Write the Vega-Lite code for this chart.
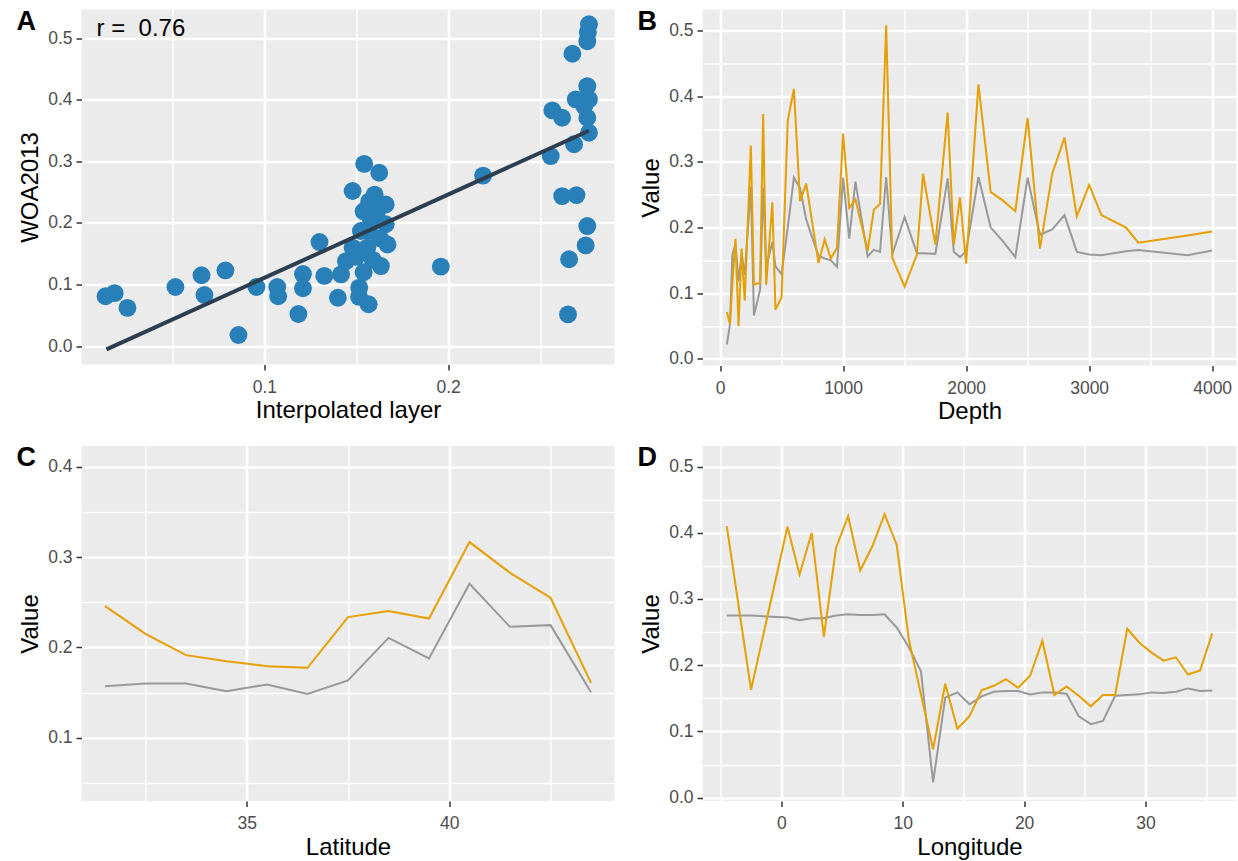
{
  "$schema": "https://vega.github.io/schema/vega-lite/v6.json",
  "background": "white",
  "padding": {"left": 16.5, "top": 7.5, "right": 0, "bottom": 0},
  "columns": 2,
  "spacing": {"column": 23, "row": 20.5},
  "datasets": {
    "scatter": [
      {"interp": 0.0136, "woa": 0.081}, {"interp": 0.0185, "woa": 0.086}, {"interp": 0.0255, "woa": 0.062},
      {"interp": 0.0516, "woa": 0.096}, {"interp": 0.0658, "woa": 0.115}, {"interp": 0.0674, "woa": 0.083},
      {"interp": 0.0788, "woa": 0.123}, {"interp": 0.0859, "woa": 0.018}, {"interp": 0.0957, "woa": 0.096},
      {"interp": 0.107, "woa": 0.096}, {"interp": 0.1075, "woa": 0.081}, {"interp": 0.1185, "woa": 0.052},
      {"interp": 0.121, "woa": 0.117}, {"interp": 0.121, "woa": 0.094}, {"interp": 0.130, "woa": 0.169},
      {"interp": 0.1326, "woa": 0.114}, {"interp": 0.1417, "woa": 0.1165}, {"interp": 0.140, "woa": 0.0785},
      {"interp": 0.1516, "woa": 0.095}, {"interp": 0.1567, "woa": 0.068}, {"interp": 0.1515, "woa": 0.080},
      {"interp": 0.1444, "woa": 0.138}, {"interp": 0.154, "woa": 0.120}, {"interp": 0.1634, "woa": 0.130},
      {"interp": 0.148, "woa": 0.160}, {"interp": 0.156, "woa": 0.160}, {"interp": 0.167, "woa": 0.165},
      {"interp": 0.1525, "woa": 0.187}, {"interp": 0.157, "woa": 0.187}, {"interp": 0.166, "woa": 0.198},
      {"interp": 0.154, "woa": 0.219}, {"interp": 0.166, "woa": 0.230}, {"interp": 0.160, "woa": 0.246},
      {"interp": 0.148, "woa": 0.252}, {"interp": 0.1625, "woa": 0.2816}, {"interp": 0.1543, "woa": 0.296},
      {"interp": 0.158, "woa": 0.205}, {"interp": 0.161, "woa": 0.215}, {"interp": 0.163, "woa": 0.175},
      {"interp": 0.159, "woa": 0.140}, {"interp": 0.150, "woa": 0.145}, {"interp": 0.157, "woa": 0.235},
      {"interp": 0.196, "woa": 0.129}, {"interp": 0.219, "woa": 0.277},
      {"interp": 0.2558, "woa": 0.3087}, {"interp": 0.2567, "woa": 0.383}, {"interp": 0.262, "woa": 0.371},
      {"interp": 0.2676, "woa": 0.475}, {"interp": 0.2766, "woa": 0.523}, {"interp": 0.2757, "woa": 0.4955},
      {"interp": 0.2760, "woa": 0.510}, {"interp": 0.2757, "woa": 0.4224}, {"interp": 0.2766, "woa": 0.401},
      {"interp": 0.2694, "woa": 0.401}, {"interp": 0.2740, "woa": 0.390}, {"interp": 0.2757, "woa": 0.371},
      {"interp": 0.2766, "woa": 0.3466}, {"interp": 0.2685, "woa": 0.328}, {"interp": 0.262, "woa": 0.2437},
      {"interp": 0.2698, "woa": 0.2453}, {"interp": 0.2757, "woa": 0.195}, {"interp": 0.2748, "woa": 0.1636},
      {"interp": 0.2658, "woa": 0.141}, {"interp": 0.2652, "woa": 0.0515}
    ],
    "fit": [
      {"interp": 0.0141, "woa": -0.0055},
      {"interp": 0.2766, "woa": 0.350}
    ],
    "note": [
      {"interp": 0.0087, "woa": 0.5037, "label": "r = \u00a00.76"}
    ],
    "depth": [
      {"series": "Interpolated layer", "depth": 55, "value": 0.022},
      {"series": "Interpolated layer", "depth": 80, "value": 0.052},
      {"series": "Interpolated layer", "depth": 100, "value": 0.159},
      {"series": "Interpolated layer", "depth": 125, "value": 0.175},
      {"series": "Interpolated layer", "depth": 150, "value": 0.118},
      {"series": "Interpolated layer", "depth": 175, "value": 0.160},
      {"series": "Interpolated layer", "depth": 200, "value": 0.128},
      {"series": "Interpolated layer", "depth": 250, "value": 0.262},
      {"series": "Interpolated layer", "depth": 275, "value": 0.066},
      {"series": "Interpolated layer", "depth": 325, "value": 0.105},
      {"series": "Interpolated layer", "depth": 350, "value": 0.260},
      {"series": "Interpolated layer", "depth": 375, "value": 0.140},
      {"series": "Interpolated layer", "depth": 425, "value": 0.178},
      {"series": "Interpolated layer", "depth": 450, "value": 0.141},
      {"series": "Interpolated layer", "depth": 500, "value": 0.129},
      {"series": "Interpolated layer", "depth": 550, "value": 0.200},
      {"series": "Interpolated layer", "depth": 600, "value": 0.276},
      {"series": "Interpolated layer", "depth": 650, "value": 0.260},
      {"series": "Interpolated layer", "depth": 700, "value": 0.212},
      {"series": "Interpolated layer", "depth": 800, "value": 0.157},
      {"series": "Interpolated layer", "depth": 850, "value": 0.153},
      {"series": "Interpolated layer", "depth": 900, "value": 0.150},
      {"series": "Interpolated layer", "depth": 950, "value": 0.140},
      {"series": "Interpolated layer", "depth": 1000, "value": 0.276},
      {"series": "Interpolated layer", "depth": 1050, "value": 0.183},
      {"series": "Interpolated layer", "depth": 1100, "value": 0.270},
      {"series": "Interpolated layer", "depth": 1200, "value": 0.156},
      {"series": "Interpolated layer", "depth": 1250, "value": 0.166},
      {"series": "Interpolated layer", "depth": 1300, "value": 0.163},
      {"series": "Interpolated layer", "depth": 1350, "value": 0.277},
      {"series": "Interpolated layer", "depth": 1400, "value": 0.159},
      {"series": "Interpolated layer", "depth": 1500, "value": 0.216},
      {"series": "Interpolated layer", "depth": 1600, "value": 0.161},
      {"series": "Interpolated layer", "depth": 1650, "value": 0.161},
      {"series": "Interpolated layer", "depth": 1750, "value": 0.160},
      {"series": "Interpolated layer", "depth": 1850, "value": 0.275},
      {"series": "Interpolated layer", "depth": 1900, "value": 0.163},
      {"series": "Interpolated layer", "depth": 1950, "value": 0.155},
      {"series": "Interpolated layer", "depth": 2000, "value": 0.164},
      {"series": "Interpolated layer", "depth": 2100, "value": 0.277},
      {"series": "Interpolated layer", "depth": 2200, "value": 0.200},
      {"series": "Interpolated layer", "depth": 2300, "value": 0.179},
      {"series": "Interpolated layer", "depth": 2400, "value": 0.155},
      {"series": "Interpolated layer", "depth": 2500, "value": 0.276},
      {"series": "Interpolated layer", "depth": 2600, "value": 0.189},
      {"series": "Interpolated layer", "depth": 2700, "value": 0.197},
      {"series": "Interpolated layer", "depth": 2800, "value": 0.219},
      {"series": "Interpolated layer", "depth": 2900, "value": 0.163},
      {"series": "Interpolated layer", "depth": 3000, "value": 0.159},
      {"series": "Interpolated layer", "depth": 3100, "value": 0.158},
      {"series": "Interpolated layer", "depth": 3300, "value": 0.164},
      {"series": "Interpolated layer", "depth": 3400, "value": 0.166},
      {"series": "Interpolated layer", "depth": 3800, "value": 0.158},
      {"series": "Interpolated layer", "depth": 4000, "value": 0.165},
      {"series": "WOA2013", "depth": 55, "value": 0.0716},
      {"series": "WOA2013", "depth": 80, "value": 0.053},
      {"series": "WOA2013", "depth": 100, "value": 0.115},
      {"series": "WOA2013", "depth": 125, "value": 0.183},
      {"series": "WOA2013", "depth": 150, "value": 0.050},
      {"series": "WOA2013", "depth": 175, "value": 0.168},
      {"series": "WOA2013", "depth": 200, "value": 0.089},
      {"series": "WOA2013", "depth": 250, "value": 0.325},
      {"series": "WOA2013", "depth": 275, "value": 0.113},
      {"series": "WOA2013", "depth": 325, "value": 0.116},
      {"series": "WOA2013", "depth": 350, "value": 0.373},
      {"series": "WOA2013", "depth": 375, "value": 0.113},
      {"series": "WOA2013", "depth": 425, "value": 0.2385},
      {"series": "WOA2013", "depth": 450, "value": 0.075},
      {"series": "WOA2013", "depth": 500, "value": 0.094},
      {"series": "WOA2013", "depth": 550, "value": 0.363},
      {"series": "WOA2013", "depth": 600, "value": 0.411},
      {"series": "WOA2013", "depth": 650, "value": 0.240},
      {"series": "WOA2013", "depth": 700, "value": 0.267},
      {"series": "WOA2013", "depth": 800, "value": 0.146},
      {"series": "WOA2013", "depth": 850, "value": 0.182},
      {"series": "WOA2013", "depth": 900, "value": 0.153},
      {"series": "WOA2013", "depth": 950, "value": 0.169},
      {"series": "WOA2013", "depth": 1000, "value": 0.343},
      {"series": "WOA2013", "depth": 1050, "value": 0.230},
      {"series": "WOA2013", "depth": 1100, "value": 0.243},
      {"series": "WOA2013", "depth": 1200, "value": 0.165},
      {"series": "WOA2013", "depth": 1250, "value": 0.227},
      {"series": "WOA2013", "depth": 1300, "value": 0.236},
      {"series": "WOA2013", "depth": 1350, "value": 0.508},
      {"series": "WOA2013", "depth": 1400, "value": 0.154},
      {"series": "WOA2013", "depth": 1500, "value": 0.110},
      {"series": "WOA2013", "depth": 1600, "value": 0.159},
      {"series": "WOA2013", "depth": 1650, "value": 0.282},
      {"series": "WOA2013", "depth": 1750, "value": 0.174},
      {"series": "WOA2013", "depth": 1850, "value": 0.375},
      {"series": "WOA2013", "depth": 1900, "value": 0.174},
      {"series": "WOA2013", "depth": 1950, "value": 0.246},
      {"series": "WOA2013", "depth": 2000, "value": 0.145},
      {"series": "WOA2013", "depth": 2100, "value": 0.418},
      {"series": "WOA2013", "depth": 2200, "value": 0.254},
      {"series": "WOA2013", "depth": 2300, "value": 0.241},
      {"series": "WOA2013", "depth": 2400, "value": 0.225},
      {"series": "WOA2013", "depth": 2500, "value": 0.367},
      {"series": "WOA2013", "depth": 2600, "value": 0.168},
      {"series": "WOA2013", "depth": 2700, "value": 0.282},
      {"series": "WOA2013", "depth": 2800, "value": 0.337},
      {"series": "WOA2013", "depth": 2900, "value": 0.217},
      {"series": "WOA2013", "depth": 3000, "value": 0.265},
      {"series": "WOA2013", "depth": 3100, "value": 0.219},
      {"series": "WOA2013", "depth": 3300, "value": 0.200},
      {"series": "WOA2013", "depth": 3400, "value": 0.177},
      {"series": "WOA2013", "depth": 3800, "value": 0.188},
      {"series": "WOA2013", "depth": 4000, "value": 0.194}
    ],
    "latitude": [
      {"series": "Interpolated layer", "lat": 31.5, "value": 0.157},
      {"series": "Interpolated layer", "lat": 32.5, "value": 0.160},
      {"series": "Interpolated layer", "lat": 33.5, "value": 0.160},
      {"series": "Interpolated layer", "lat": 34.5, "value": 0.1516},
      {"series": "Interpolated layer", "lat": 35.5, "value": 0.159},
      {"series": "Interpolated layer", "lat": 36.5, "value": 0.1486},
      {"series": "Interpolated layer", "lat": 37.5, "value": 0.1634},
      {"series": "Interpolated layer", "lat": 38.5, "value": 0.2106},
      {"series": "Interpolated layer", "lat": 39.5, "value": 0.1878},
      {"series": "Interpolated layer", "lat": 40.5, "value": 0.2705},
      {"series": "Interpolated layer", "lat": 41.5, "value": 0.2228},
      {"series": "Interpolated layer", "lat": 42.5, "value": 0.2247},
      {"series": "Interpolated layer", "lat": 43.5, "value": 0.1505},
      {"series": "WOA2013", "lat": 31.5, "value": 0.2457},
      {"series": "WOA2013", "lat": 32.5, "value": 0.215},
      {"series": "WOA2013", "lat": 33.5, "value": 0.1915},
      {"series": "WOA2013", "lat": 34.5, "value": 0.1848},
      {"series": "WOA2013", "lat": 35.5, "value": 0.1793},
      {"series": "WOA2013", "lat": 36.5, "value": 0.1774},
      {"series": "WOA2013", "lat": 37.5, "value": 0.2336},
      {"series": "WOA2013", "lat": 38.5, "value": 0.2402},
      {"series": "WOA2013", "lat": 39.5, "value": 0.232},
      {"series": "WOA2013", "lat": 40.5, "value": 0.3166},
      {"series": "WOA2013", "lat": 41.5, "value": 0.2826},
      {"series": "WOA2013", "lat": 42.5, "value": 0.255},
      {"series": "WOA2013", "lat": 43.5, "value": 0.1608}
    ],
    "longitude": [
      {"series": "Interpolated layer", "lon": -4.5, "value": 0.275},
      {"series": "Interpolated layer", "lon": -2.5, "value": 0.275},
      {"series": "Interpolated layer", "lon": 0.5, "value": 0.272},
      {"series": "Interpolated layer", "lon": 1.5, "value": 0.268},
      {"series": "Interpolated layer", "lon": 2.5, "value": 0.271},
      {"series": "Interpolated layer", "lon": 3.5, "value": 0.271},
      {"series": "Interpolated layer", "lon": 4.5, "value": 0.275},
      {"series": "Interpolated layer", "lon": 5.5, "value": 0.277},
      {"series": "Interpolated layer", "lon": 6.5, "value": 0.276},
      {"series": "Interpolated layer", "lon": 7.5, "value": 0.276},
      {"series": "Interpolated layer", "lon": 8.5, "value": 0.277},
      {"series": "Interpolated layer", "lon": 9.5, "value": 0.257},
      {"series": "Interpolated layer", "lon": 10.5, "value": 0.227},
      {"series": "Interpolated layer", "lon": 11.5, "value": 0.191},
      {"series": "Interpolated layer", "lon": 12.5, "value": 0.023},
      {"series": "Interpolated layer", "lon": 13.5, "value": 0.151},
      {"series": "Interpolated layer", "lon": 14.5, "value": 0.159},
      {"series": "Interpolated layer", "lon": 15.5, "value": 0.141},
      {"series": "Interpolated layer", "lon": 16.5, "value": 0.153},
      {"series": "Interpolated layer", "lon": 17.5, "value": 0.160},
      {"series": "Interpolated layer", "lon": 18.5, "value": 0.161},
      {"series": "Interpolated layer", "lon": 19.5, "value": 0.161},
      {"series": "Interpolated layer", "lon": 20.5, "value": 0.156},
      {"series": "Interpolated layer", "lon": 21.5, "value": 0.159},
      {"series": "Interpolated layer", "lon": 22.5, "value": 0.159},
      {"series": "Interpolated layer", "lon": 23.5, "value": 0.157},
      {"series": "Interpolated layer", "lon": 24.5, "value": 0.123},
      {"series": "Interpolated layer", "lon": 25.5, "value": 0.111},
      {"series": "Interpolated layer", "lon": 26.5, "value": 0.116},
      {"series": "Interpolated layer", "lon": 27.5, "value": 0.154},
      {"series": "Interpolated layer", "lon": 28.5, "value": 0.155},
      {"series": "Interpolated layer", "lon": 29.5, "value": 0.156},
      {"series": "Interpolated layer", "lon": 30.5, "value": 0.159},
      {"series": "Interpolated layer", "lon": 31.5, "value": 0.158},
      {"series": "Interpolated layer", "lon": 32.5, "value": 0.160},
      {"series": "Interpolated layer", "lon": 33.5, "value": 0.165},
      {"series": "Interpolated layer", "lon": 34.5, "value": 0.161},
      {"series": "Interpolated layer", "lon": 35.5, "value": 0.162},
      {"series": "WOA2013", "lon": -4.5, "value": 0.410},
      {"series": "WOA2013", "lon": -2.5, "value": 0.163},
      {"series": "WOA2013", "lon": 0.5, "value": 0.409},
      {"series": "WOA2013", "lon": 1.5, "value": 0.337},
      {"series": "WOA2013", "lon": 2.5, "value": 0.400},
      {"series": "WOA2013", "lon": 3.5, "value": 0.243},
      {"series": "WOA2013", "lon": 4.5, "value": 0.377},
      {"series": "WOA2013", "lon": 5.5, "value": 0.425},
      {"series": "WOA2013", "lon": 6.5, "value": 0.343},
      {"series": "WOA2013", "lon": 7.5, "value": 0.380},
      {"series": "WOA2013", "lon": 8.5, "value": 0.428},
      {"series": "WOA2013", "lon": 9.5, "value": 0.382},
      {"series": "WOA2013", "lon": 10.5, "value": 0.239},
      {"series": "WOA2013", "lon": 11.5, "value": 0.156},
      {"series": "WOA2013", "lon": 12.5, "value": 0.073},
      {"series": "WOA2013", "lon": 13.5, "value": 0.172},
      {"series": "WOA2013", "lon": 14.5, "value": 0.104},
      {"series": "WOA2013", "lon": 15.5, "value": 0.123},
      {"series": "WOA2013", "lon": 16.5, "value": 0.162},
      {"series": "WOA2013", "lon": 17.5, "value": 0.169},
      {"series": "WOA2013", "lon": 18.5, "value": 0.179},
      {"series": "WOA2013", "lon": 19.5, "value": 0.166},
      {"series": "WOA2013", "lon": 20.5, "value": 0.184},
      {"series": "WOA2013", "lon": 21.5, "value": 0.237},
      {"series": "WOA2013", "lon": 22.5, "value": 0.155},
      {"series": "WOA2013", "lon": 23.5, "value": 0.168},
      {"series": "WOA2013", "lon": 24.5, "value": 0.154},
      {"series": "WOA2013", "lon": 25.5, "value": 0.138},
      {"series": "WOA2013", "lon": 26.5, "value": 0.155},
      {"series": "WOA2013", "lon": 27.5, "value": 0.155},
      {"series": "WOA2013", "lon": 28.5, "value": 0.255},
      {"series": "WOA2013", "lon": 29.5, "value": 0.234},
      {"series": "WOA2013", "lon": 30.5, "value": 0.219},
      {"series": "WOA2013", "lon": 31.5, "value": 0.207},
      {"series": "WOA2013", "lon": 32.5, "value": 0.212},
      {"series": "WOA2013", "lon": 33.5, "value": 0.186},
      {"series": "WOA2013", "lon": 34.5, "value": 0.192},
      {"series": "WOA2013", "lon": 35.5, "value": 0.248}
    ]
  },
  "concat": [
    {
      "width": 533, "height": 355,
      "title": {"text": "A", "dx": -65, "offset": -26},
      "layer": [
        {
          "data": {"name": "scatter"},
          "mark": {"type": "circle", "size": 320, "color": "#2980B9", "opacity": 1},
          "encoding": {
            "x": {"field": "interp", "type": "quantitative", "title": "Interpolated layer",
                  "scale": {"domain": [0.0005, 0.2905], "nice": false, "zero": false},
                  "axis": {"values": [0.05, 0.1, 0.15, 0.2, 0.25],
                           "labelExpr": "abs(datum.value*10 - round(datum.value*10)) > 0.01 ? '' : format(datum.value, '.1f')",
                           "gridWidth": {"condition": {"test": "abs(datum.value*10 - round(datum.value*10)) > 0.01", "value": 1.3}, "value": 2.6},
                           "tickOpacity": {"condition": {"test": "abs(datum.value*10 - round(datum.value*10)) > 0.01", "value": 0}, "value": 1}}},
            "y": {"field": "woa", "type": "quantitative", "title": "WOA2013",
                  "scale": {"domain": [-0.030, 0.547], "nice": false, "zero": false},
                  "axis": {"values": [0, 0.05, 0.1, 0.15, 0.2, 0.25, 0.3, 0.35, 0.4, 0.45, 0.5],
                           "labelExpr": "abs(datum.value*10 - round(datum.value*10)) > 0.01 ? '' : format(datum.value, '.1f')",
                           "gridWidth": {"condition": {"test": "abs(datum.value*10 - round(datum.value*10)) > 0.01", "value": 1.3}, "value": 2.6},
                           "tickOpacity": {"condition": {"test": "abs(datum.value*10 - round(datum.value*10)) > 0.01", "value": 0}, "value": 1}}}
          }
        },
        {
          "data": {"name": "fit"},
          "mark": {"type": "line", "color": "#2C3E50", "strokeWidth": 4},
          "encoding": {
            "x": {"field": "interp", "type": "quantitative"},
            "y": {"field": "woa", "type": "quantitative"}
          }
        },
        {
          "data": {"name": "note"},
          "mark": {"type": "text", "align": "left", "baseline": "alphabetic", "fontSize": 24, "font": "Liberation Sans", "color": "black"},
          "encoding": {
            "x": {"field": "interp", "type": "quantitative"},
            "y": {"field": "woa", "type": "quantitative"},
            "text": {"field": "label"}
          }
        }
      ]
    },
    {
      "width": 534, "height": 356,
      "title": {"text": "B", "dx": -65, "offset": -26},
      "data": {"name": "depth"},
      "mark": {"type": "line", "strokeWidth": 2},
      "encoding": {
        "x": {"field": "depth", "type": "quantitative", "title": "Depth",
              "scale": {"domain": [-143, 4198], "nice": false, "zero": false},
              "axis": {"values": [0, 500, 1000, 1500, 2000, 2500, 3000, 3500, 4000],
                       "labelExpr": "datum.value % 1000 != 0 ? '' : format(datum.value, 'd')",
                       "gridWidth": {"condition": {"test": "datum.value % 1000 != 0", "value": 1.3}, "value": 2.6},
                       "tickOpacity": {"condition": {"test": "datum.value % 1000 != 0", "value": 0}, "value": 1}}},
        "y": {"field": "value", "type": "quantitative", "title": "Value",
              "scale": {"domain": [-0.010, 0.532], "nice": false, "zero": false},
              "axis": {"values": [0, 0.05, 0.1, 0.15, 0.2, 0.25, 0.3, 0.35, 0.4, 0.45, 0.5],
                       "labelExpr": "abs(datum.value*10 - round(datum.value*10)) > 0.01 ? '' : format(datum.value, '.1f')",
                       "gridWidth": {"condition": {"test": "abs(datum.value*10 - round(datum.value*10)) > 0.01", "value": 1.3}, "value": 2.6},
                       "tickOpacity": {"condition": {"test": "abs(datum.value*10 - round(datum.value*10)) > 0.01", "value": 0}, "value": 1}}},
        "color": {"field": "series", "type": "nominal", "legend": null,
                  "scale": {"domain": ["Interpolated layer", "WOA2013"], "range": ["#999999", "#E69F00"]}}
      }
    },
    {
      "width": 533, "height": 355,
      "title": {"text": "C", "dx": -65, "offset": -26},
      "data": {"name": "latitude"},
      "mark": {"type": "line", "strokeWidth": 2},
      "encoding": {
        "x": {"field": "lat", "type": "quantitative", "title": "Latitude",
              "scale": {"domain": [30.92, 44.08], "nice": false, "zero": false},
              "axis": {"values": [32.5, 35, 37.5, 40, 42.5],
                       "labelExpr": "datum.value % 5 != 0 ? '' : format(datum.value, 'd')",
                       "gridWidth": {"condition": {"test": "datum.value % 5 != 0", "value": 1.3}, "value": 2.6},
                       "tickOpacity": {"condition": {"test": "datum.value % 5 != 0", "value": 0}, "value": 1}}},
        "y": {"field": "value", "type": "quantitative", "title": "Value",
              "scale": {"domain": [0.030, 0.423], "nice": false, "zero": false},
              "axis": {"values": [0.05, 0.1, 0.15, 0.2, 0.25, 0.3, 0.35, 0.4],
                       "labelExpr": "abs(datum.value*10 - round(datum.value*10)) > 0.01 ? '' : format(datum.value, '.1f')",
                       "gridWidth": {"condition": {"test": "abs(datum.value*10 - round(datum.value*10)) > 0.01", "value": 1.3}, "value": 2.6},
                       "tickOpacity": {"condition": {"test": "abs(datum.value*10 - round(datum.value*10)) > 0.01", "value": 0}, "value": 1}}},
        "color": {"field": "series", "type": "nominal", "legend": null,
                  "scale": {"domain": ["Interpolated layer", "WOA2013"], "range": ["#999999", "#E69F00"]}}
      }
    },
    {
      "width": 534, "height": 355,
      "title": {"text": "D", "dx": -65, "offset": -26},
      "data": {"name": "longitude"},
      "mark": {"type": "line", "strokeWidth": 2},
      "encoding": {
        "x": {"field": "lon", "type": "quantitative", "title": "Longitude",
              "scale": {"domain": [-6.5, 37.5], "nice": false, "zero": false},
              "axis": {"values": [-5, 0, 5, 10, 15, 20, 25, 30, 35],
                       "labelExpr": "datum.value % 10 != 0 ? '' : format(datum.value, 'd')",
                       "gridWidth": {"condition": {"test": "datum.value % 10 != 0", "value": 1.3}, "value": 2.6},
                       "tickOpacity": {"condition": {"test": "datum.value % 10 != 0", "value": 0}, "value": 1}}},
        "y": {"field": "value", "type": "quantitative", "title": "Value",
              "scale": {"domain": [-0.005, 0.531], "nice": false, "zero": false},
              "axis": {"values": [0, 0.05, 0.1, 0.15, 0.2, 0.25, 0.3, 0.35, 0.4, 0.45, 0.5],
                       "labelExpr": "abs(datum.value*10 - round(datum.value*10)) > 0.01 ? '' : format(datum.value, '.1f')",
                       "gridWidth": {"condition": {"test": "abs(datum.value*10 - round(datum.value*10)) > 0.01", "value": 1.3}, "value": 2.6},
                       "tickOpacity": {"condition": {"test": "abs(datum.value*10 - round(datum.value*10)) > 0.01", "value": 0}, "value": 1}}},
        "color": {"field": "series", "type": "nominal", "legend": null,
                  "scale": {"domain": ["Interpolated layer", "WOA2013"], "range": ["#999999", "#E69F00"]}}
      }
    }
  ],
  "resolve": {"scale": {"color": "independent"}},
  "config": {
    "view": {"fill": "#EBEBEB", "stroke": null},
    "axis": {
      "domain": false, "grid": true, "gridColor": "#FFFFFF",
      "tickColor": "#333333", "tickSize": 5.5, "tickWidth": 1.5,
      "labelColor": "#4D4D4D", "labelFont": "Liberation Sans", "labelFontSize": 17.5,
      "titleFont": "Liberation Sans", "titleFontSize": 24, "titleFontWeight": "normal", "titleColor": "#000000", "titlePadding": 5,
      "labelOverlap": false
    },
    "axisX": {"labelPadding": 8, "titlePadding": 3},
    "axisY": {"labelPadding": 4},
    "title": {
      "anchor": "start", "frame": "group", "orient": "top", "baseline": "alphabetic",
      "font": "Liberation Sans", "fontSize": 27, "fontWeight": "bold", "color": "#000000"
    }
  }
}
